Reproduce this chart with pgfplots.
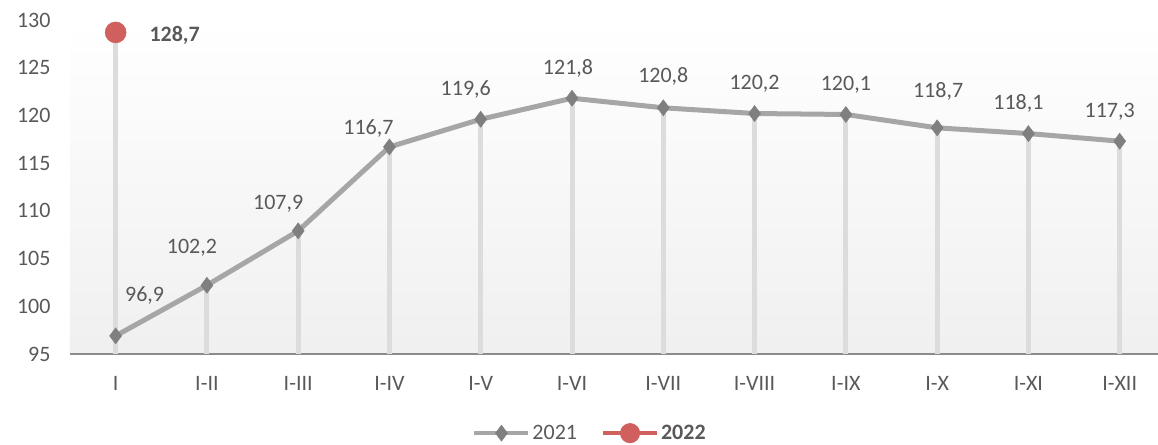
\documentclass[border=0pt]{standalone}
\usepackage{pgfplots}
\pgfplotsset{compat=1.18}
\usepackage{pgfplotstable}
\usepackage{fontspec}
\setmainfont{Carlito}
\definecolor{txt}{HTML}{595959}
\definecolor{lin}{HTML}{A6A6A6}
\definecolor{mk}{HTML}{7F7F7F}
\definecolor{drop}{HTML}{DCDCDC}
\definecolor{redA}{HTML}{D0605E}
\definecolor{axl}{HTML}{8C8C8C}
\pgfplotstableread{
x y lab dx dy
0 96.9 96,9 29 40
1 102.2 102,2 -15 38
2 107.9 107,9 -20 27
3 116.7 116,7 -21 18
4 119.6 119,6 -15 30
5 121.8 121,8 -4 30
6 120.8 120,8 0 31
7 120.2 120,2 0 30
8 120.1 120,1 0 30
9 118.7 118,7 1 36
10 118.1 118,1 -10 30
11 117.3 117,3 -10 29
}\dataA
\pgfplotstableread{
x y lab dx dy
0 128.7 128,7 59 -3
}\dataB
\begin{document}
\begin{tikzpicture}[x=1pt,y=1pt]
\useasboundingbox (-70,-90) rectangle (1088,354);
\begin{axis}[
  at={(0,0)}, anchor=south west, scale only axis,
  width=1088pt, height=334pt,
  xmin=-0.5, xmax=11.42, ymin=95, ymax=130,
  ytick={95,100,...,130},
  xtick={0,...,11},
  xticklabels={I,I-II,I-III,I-IV,I-V,I-VI,I-VII,I-VIII,I-IX,I-X,I-XI,I-XII},
  axis x line*=bottom, axis y line*=left,
  x axis line style={axl, line width=1.6pt, -},
  y axis line style={draw=none},
  major tick length=0pt,
  /pgf/number format/assume math mode=true,
  tick label style={font=\fontsize{22}{24}\selectfont, text=txt},
  yticklabel style={xshift=-16pt},
  xticklabel style={yshift=-19pt},
  axis background/.style={top color=white, bottom color=black!6},
  legend style={at={(0.478,-0.237)}, anchor=center, legend columns=2, draw=none, fill=none,
    font=\fontsize{22}{24}\selectfont, text=txt,
    /tikz/every even column/.append style={column sep=22pt}},
  legend image code/.code={\draw[mark repeat=2,mark phase=2,#1] plot coordinates {(0pt,0pt)(27pt,0pt)(54pt,0pt)};},
]
\addplot[ycomb, drop, line width=5pt, forget plot] table[x=x,y=y]{\dataA};
\addplot[ycomb, drop, line width=5pt, forget plot] table[x=x,y=y]{\dataB};
\addplot[lin, line width=5pt, mark=diamond*, mark size=8pt,
  mark options={fill=mk, draw=mk, line width=0.5pt},
  legend image post style={line width=4pt},
  point meta=explicit symbolic,
  visualization depends on={\thisrow{dx}\as\dx},
  visualization depends on={\thisrow{dy}\as\dy},
  nodes near coords,
  nodes near coords style={anchor=center, font=\fontsize{22}{24}\selectfont, text=txt, xshift=\dx pt, yshift=\dy pt},
] table[x=x,y=y,meta=lab]{\dataA};
\addlegendentry{2021}
\addplot[redA, line width=5pt, mark=*, mark size=10.5pt,
  mark options={fill=redA, draw=redA, line width=0.5pt},
  legend image code/.code={%
    \draw[redA, line width=4pt] (0pt,0pt) -- (54pt,0pt);
    \fill[redA] (27pt,0pt) circle[radius=7.5pt];},
  point meta=explicit symbolic,
  visualization depends on={\thisrow{dx}\as\dx},
  visualization depends on={\thisrow{dy}\as\dy},
  nodes near coords,
  nodes near coords style={anchor=center, font=\fontsize{22}{24}\selectfont\bfseries, text=txt, xshift=\dx pt, yshift=\dy pt},
] table[x=x,y=y,meta=lab]{\dataB};
\addlegendentry{\textbf{2022}}
\end{axis}
\end{tikzpicture}
\end{document}
